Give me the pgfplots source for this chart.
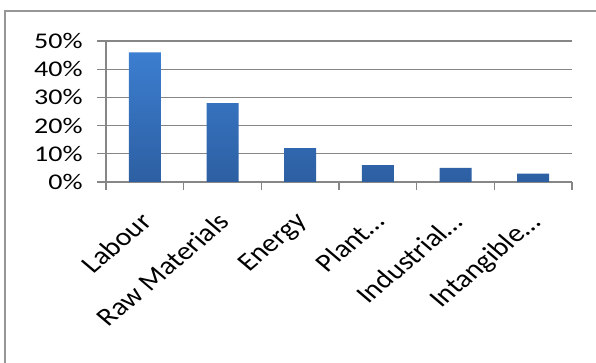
\documentclass[border=0pt]{standalone}
\usepackage{pgfplots}
\pgfplotsset{compat=1.18}
\usepackage{fontspec}
\setmainfont{Carlito}
\definecolor{gridgray}{RGB}{134,134,134}
\definecolor{framegray}{RGB}{150,150,150}
\definecolor{bartop}{RGB}{60,126,208}
\definecolor{barbot}{RGB}{45,95,162}
\begin{document}
\begin{tikzpicture}
\useasboundingbox (0,0) rectangle (596bp,363bp);
\fill[white] (0,0) rectangle (596bp,363bp);
\draw[framegray, line width=1.3bp] (5bp,-2bp) -- (5bp,352bp) -- (598bp,352bp);
\begin{axis}[
  at={(106bp,181bp)}, anchor=south west,
  scale only axis, width=466bp, height=141bp,
  xmin=-0.5, xmax=5.5, ymin=0, ymax=50,
  axis x line=bottom, axis y line=left,
  axis line style={gridgray, line width=1.3bp, -},
  every axis x line/.append style={-},
  every axis y line/.append style={-},
  xtick={0,...,5},
  xticklabels={Labour,Raw Materials,Energy,Plant\dots,Industrial\dots,Intangible\dots},
  major x tick style={draw=none},
  minor xtick={-0.5,0.5,1.5,2.5,3.5,4.5,5.5},
  minor tick length=8bp,
  minor x tick style={gridgray, line width=1.3bp},
  ytick={0,10,20,30,40,50},
  yticklabels={0\%,10\%,20\%,30\%,40\%,50\%},
  major tick length=9bp,
  tick align=outside,
  y tick style={gridgray, line width=1.3bp},
  ymajorgrids, grid style={gridgray, line width=1.3bp},
  yticklabel style={font=\fontsize{22.5}{26}\selectfont, text=black, xshift=-10bp, xscale=1.25},
  xticklabel style={font=\fontsize{25.5}{29}\selectfont, text=black, xshift=-6bp, yshift=-17bp, xscale=1.18, rotate=45, anchor=north east, inner sep=2bp},
  clip=false,
]
\addplot[ybar, bar width=32bp, draw=none, top color=bartop, bottom color=barbot]
  coordinates {(0,46) (1,28) (2,12) (3,6) (4,5) (5,3)};
\end{axis}
\end{tikzpicture}
\end{document}
